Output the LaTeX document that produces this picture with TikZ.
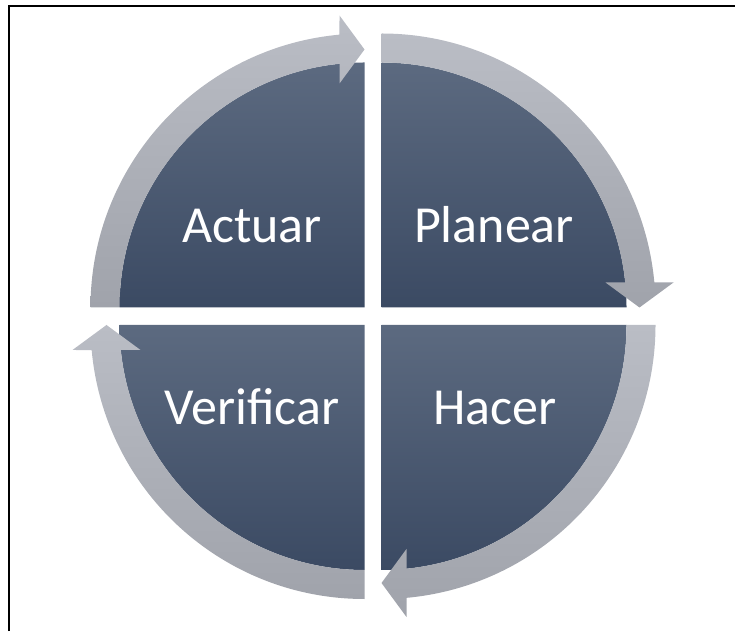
\documentclass[tikz,border=0pt]{standalone}
\usepackage{fontspec}
\setmainfont{Carlito}
\definecolor{quadtop}{RGB}{92,106,128}
\definecolor{quadbot}{RGB}{59,74,99}
\definecolor{bandtop}{RGB}{186,189,197}
\definecolor{bandbot}{RGB}{160,163,171}
\tikzset{
  quad/.style={top color=quadtop, bottom color=quadbot, draw=none},
  band/.style={top color=bandtop, bottom color=bandbot, draw=none},
  label/.style={text=white, font=\fontsize{52}{60}\selectfont, anchor=base, inner sep=0pt},
  frame/.style={line width=2pt, draw=black}
}
\begin{document}
\begin{tikzpicture}[x=1pt,y=1pt]
\useasboundingbox (0,0) rectangle (735,631);
\coordinate (TR) at (381.5,323.5);
\coordinate (TL) at (364.5,323.5);
\coordinate (BL) at (364.5,306);
\coordinate (BR) at (381.5,306);
% dark quarter disks
\shade[quad,shift={(TR)}] (0,0) -- (90:245) arc[start angle=90,end angle=0,radius=245] -- cycle;
\shade[quad,shift={(TL)}] (0,0) -- (180:245) arc[start angle=180,end angle=90,radius=245] -- cycle;
\shade[quad,shift={(BL)}] (0,0) -- (270:245) arc[start angle=270,end angle=180,radius=245] -- cycle;
\shade[quad,shift={(BR)}] (0,0) -- (0:245) arc[start angle=360,end angle=270,radius=245] -- cycle;
% arrow bands
\shade[band,shift={(TR)}] (90:245) -- (90:274) arc[start angle=90,end angle=5.24,radius=274]
  -- (292,25) -- (258,0) -- (224,25) -- (243.7,25) arc[start angle=5.86,end angle=90,radius=245] -- cycle;
\shade[band,shift={(TL)}] (180:245) -- (180:274) arc[start angle=180,end angle=95.24,radius=274]
  -- (-25,292) -- (0,258) -- (-25,224) -- (-25,243.7) arc[start angle=95.86,end angle=180,radius=245] -- cycle;
\shade[band,shift={(BL)}] (270:245) -- (270:274) arc[start angle=270,end angle=185.24,radius=274]
  -- (-292,-25) -- (-258,0) -- (-224,-25) -- (-243.7,-25) arc[start angle=185.86,end angle=270,radius=245] -- cycle;
\shade[band,shift={(BR)}] (0:245) -- (0:274) arc[start angle=360,end angle=275.24,radius=274]
  -- (25,-292) -- (0,-258) -- (25,-224) -- (25,-243.7) arc[start angle=275.86,end angle=360,radius=245] -- cycle;
% labels
\node[label] (actuar) at (252,388) {Actuar};
\node[label] (planear) at (494,388) {Planear};
\node[label] (verificar) at (252,206) {Verificar};
\node[label] (hacer) at (495,206) {Hacer};
% frame (top and left edges)
\coordinate (f1) at (8.5,0);
\coordinate (f2) at (8.5,625);
\coordinate (f3) at (735,625);
\draw[frame] (f1) -- (f2) -- (f3);
\end{tikzpicture}
\end{document}
